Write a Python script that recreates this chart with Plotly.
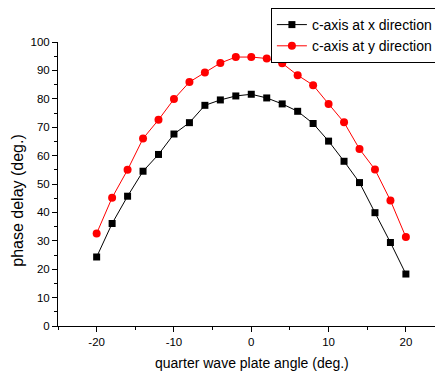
import plotly.graph_objects as go

angles = [-20, -18, -16, -14, -12, -10, -8, -6, -4, -2, 0, 2, 4, 6, 8, 10, 12, 14, 16, 18, 20]
x_dir = [24.3, 36.1, 45.7, 54.5, 60.4, 67.6, 71.6, 77.7, 79.6, 81.0, 81.6, 80.3, 78.2, 75.6, 71.3, 65.1, 58.0, 50.5, 39.9, 29.4, 18.3]
y_dir = [32.6, 45.2, 55.0, 66.0, 72.6, 79.9, 85.9, 89.3, 92.6, 94.7, 94.7, 94.2, 92.5, 88.3, 84.8, 78.2, 71.7, 62.3, 55.1, 44.2, 31.3]
names = ["c-axis at x direction", "c-axis at y direction"]
x_ticks = [-20, -10, 0, 10, 20]
x_ticktext = ["-20", "-10", "0", "10", "20"]
y_ticks = [0, 10, 20, 30, 40, 50, 60, 70, 80, 90, 100]
x_title = "quarter wave plate angle (deg.)"
y_title = "phase delay (deg.)"

font = "Liberation Sans, Arial, sans-serif"

fig = go.Figure()
fig.add_trace(go.Scatter(x=angles, y=x_dir, name=names[0], mode="lines+markers",
                         line=dict(color="black", width=1),
                         marker=dict(symbol="square", size=7, color="black")))
fig.add_trace(go.Scatter(x=angles, y=y_dir, name=names[1], mode="lines+markers",
                         line=dict(color="red", width=1),
                         marker=dict(symbol="circle", size=8, color="red")))

fig.update_layout(
    width=435, height=364,
    margin=dict(l=50, r=0, t=34, b=46),
    paper_bgcolor="white", plot_bgcolor="white",
    font=dict(family=font, size=11.5, color="black"),
    legend=dict(x=0.553, y=1.12, xanchor="left", yanchor="top",
                bordercolor="black", borderwidth=1, bgcolor="white",
                font=dict(size=14, family=font), tracegroupgap=0,
                itemwidth=30),
    showlegend=True,
    annotations=[
        dict(text=x_title, xref="paper", yref="paper", x=0.5026, y=-0.131,
             xanchor="center", yanchor="middle", showarrow=False,
             font=dict(size=14, family=font)),
        dict(text=y_title, xref="paper", yref="paper", x=-0.105, y=0.443,
             xanchor="center", yanchor="middle", showarrow=False, textangle=-90,
             font=dict(size=16, family=font)),
    ],
)
fig.update_xaxes(range=[-25, 24.8], tickvals=x_ticks, ticktext=x_ticktext, showgrid=False, zeroline=False,
                 showline=True, linecolor="black", linewidth=1,
                 ticks="outside", ticklen=5, tickcolor="black",
                 minor=dict(dtick=5, tick0=0, ticks="outside", ticklen=3, tickcolor="black"))
fig.update_yaxes(range=[0, 100], tickvals=y_ticks, showgrid=False, zeroline=False,
                 showline=True, linecolor="black", linewidth=1,
                 ticks="outside", ticklen=5, tickcolor="black",
                 minor=dict(dtick=5, tick0=0, ticks="outside", ticklen=3, tickcolor="black"))

fig.write_html("out.html")
